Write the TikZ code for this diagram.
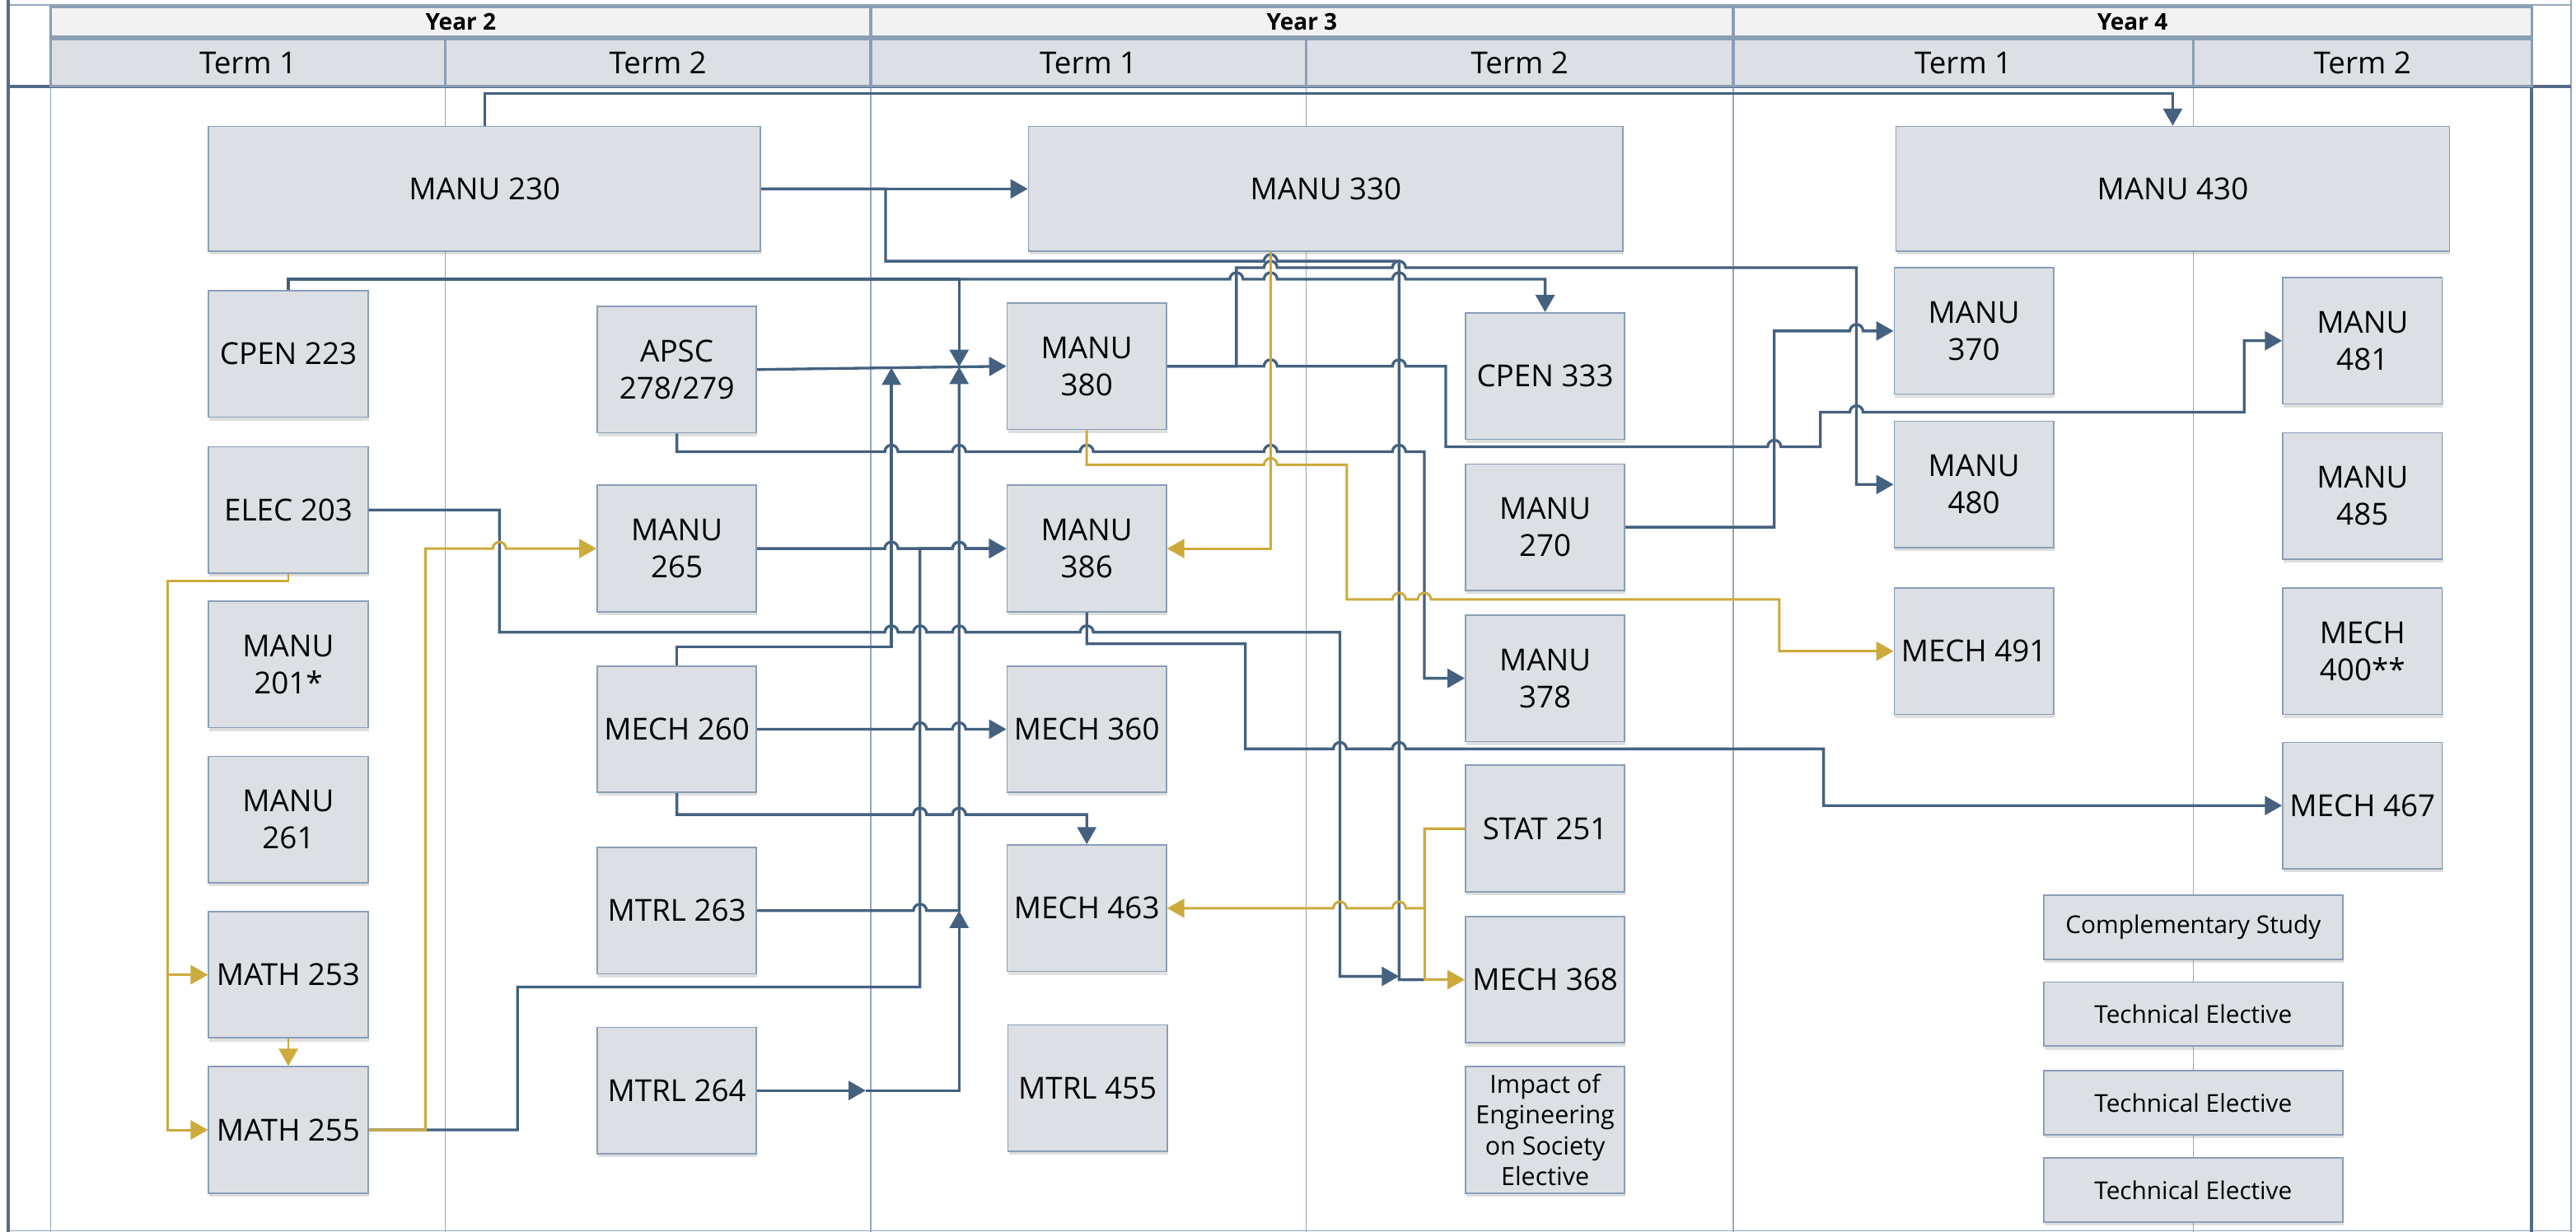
\documentclass[tikz,border=0pt]{standalone}
\usepackage{fontspec}
\setmainfont{Open Sans}
\usepackage{tikz}
\usetikzlibrary{arrows.meta,shadows}
\tikzset{>={Triangle[length=2.1mm,width=2.3mm]}}
\definecolor{LineBlue}{RGB}{68,97,128}
\definecolor{LineGold}{RGB}{204,170,60}
\definecolor{BoxFill}{RGB}{220,223,228}
\definecolor{BoxEdge}{RGB}{138,158,182}
\definecolor{LaneGray}{RGB}{150,168,190}
\definecolor{HeadFill}{RGB}{242,242,242}
\definecolor{PoolLine}{RGB}{84,108,136}

\tikzset{
  course/.style={draw=BoxEdge, line width=0.5pt, fill=BoxFill, minimum width=1.94cm, minimum height=1.54cm,
    inner sep=1pt, align=center, font=\fontsize{10.5}{12.8}\selectfont,
    drop shadow={shadow xshift=0.3pt, shadow yshift=-1.2pt, opacity=0.25}},
  wide/.style={course, minimum height=1.52cm},
  elective/.style={course, minimum width=3.64cm, minimum height=0.78cm, font=\fontsize{8.5}{10}\selectfont},
  pre/.style={draw=LineBlue, line width=0.95pt},
  co/.style={draw=LineGold, line width=0.85pt},
  lane/.style={draw=LaneGray, line width=0.35pt},
  pool/.style={draw=PoolLine, line width=1.1pt},
  head/.style={draw=BoxEdge, line width=0.9pt},
}
% line hop over a vertical connector, going right / going left
\newcommand{\hopr}[2]{-- ({#1-4},#2) arc[start angle=180,end angle=0,radius=0.08cm]}
\newcommand{\hopl}[2]{-- ({#1+4},#2) arc[start angle=0,end angle=180,radius=0.08cm]}

\begin{document}
\begin{tikzpicture}[x=0.02cm, y=-0.02cm]
\useasboundingbox (0,0) rectangle (1568,750);
% frame and lanes
\draw[lane] (5,3) -- (1565,3);
\draw[lane] (5,749.5) -- (1565,749.5);
\draw[lane] (1565,0) -- (1565,750);
\foreach \x in {31,271,530,795,1055,1335} \draw[lane] (\x,52.5) -- (\x,750);
\draw[pool] (5,0) -- (5,750);
\draw[pool] (5,52.5) -- (1565,52.5);
\draw[pool] (1541,4) -- (1541,750);
% header
\foreach \a/\b/\n in {31/530/2,530/1055/3,1055/1541/4}{
  \draw[head, fill=HeadFill] (\a,4) rectangle (\b,22.5);
  \node[font=\fontsize{8}{9}\selectfont\bfseries] (year\n) at ({(\a+\b)/2},13.3) {Year \n};
}
\foreach \a/\b/\tn [count=\i] in {31/271/1,271/530/2,530/795/1,795/1055/2,1055/1335/1,1335/1541/2}{
  \draw[head, fill=BoxFill] (\a,24) rectangle (\b,52.5);
  \node[font=\fontsize{10.5}{12}\selectfont] (term\i) at ({(\a+\b)/2},38.5) {Term \tn};
}

% courses
\node[wide, minimum width=6.72cm] (m230) at (295,115) {MANU 230};
\node[wide, minimum width=7.24cm] (m330) at (807,115) {MANU 330};
\node[wide, minimum width=6.74cm] (m430) at (1322.5,115) {MANU 430};

\node[course] (cpen223) at (175.5,215.5) {CPEN 223};
\node[course] (elec203) at (175.5,310.5) {ELEC 203};
\node[course] (m201) at (175.5,404.5) {MANU\\201*};
\node[course] (m261) at (175.5,499) {MANU\\261};
\node[course] (math253) at (175.5,593.5) {MATH 253};
\node[course] (math255) at (175.5,688) {MATH 255};

\node[course] (apsc) at (412,225) {APSC\\278/279};
\node[course] (m265) at (412,334) {MANU\\265};
\node[course] (mech260) at (412,444) {MECH 260};
\node[course] (mtrl263) at (412,554.5) {MTRL 263};
\node[course] (mtrl264) at (412,664) {MTRL 264};

\node[course] (m380) at (661.5,223) {MANU\\380};
\node[course] (m386) at (661.5,334) {MANU\\386};
\node[course] (mech360) at (661.5,444) {MECH 360};
\node[course] (mech463) at (661.5,553) {MECH 463};
\node[course] (mtrl455) at (662,662.5) {MTRL 455};

\node[course] (cpen333) at (940.5,229) {CPEN 333};
\node[course] (m270) at (940.5,321) {MANU\\270};
\node[course] (m378) at (940.5,413) {MANU\\378};
\node[course] (stat251) at (940.5,504.5) {STAT 251};
\node[course] (mech368) at (940.5,596.5) {MECH 368};
\node[course, inner sep=0pt, font=\fontsize{8.7}{10.7}\selectfont] (impact) at (940.5,688) {Impact of\\Engineering\\on Society\\Elective};

\node[course] (m370) at (1201.5,201.5) {MANU\\370};
\node[course] (m480) at (1201.5,295) {MANU\\480};
\node[course] (mech491) at (1201.5,396.5) {MECH 491};

\node[course] (m481) at (1438,207.5) {MANU\\481};
\node[course] (m485) at (1438,302) {MANU\\485};
\node[course] (mech400) at (1438,396.5) {MECH\\400**};
\node[course] (mech467) at (1438,490.5) {MECH 467};

\node[elective] (comp) at (1335,564.5) {Complementary Study};
\node[elective] (tech1) at (1335,617.5) {Technical Elective};
\node[elective] (tech2) at (1335,671.5) {Technical Elective};
\node[elective] (tech3) at (1335,724.5) {Technical Elective};

% end points on other connectors
\coordinate (in380a) at (542.6,223.9);
\coordinate (in380b) at (583.8,223.4);
\coordinate (mid264) at (527,664);
\coordinate (in263) at (583.8,554.5);
\coordinate (in368) at (851.6,594.5);
\coordinate (j368) at (867,596.5);

% blue prerequisites
\draw[pre,->] (m230.north) -- (295,57) -| (m430.north);
\draw[pre,->] (m230.east) -- (m330.west);
\draw[pre] (m230.east) -- (539,115) -- (539,159) \hopr{773.4}{159} -- (851.6,159) -- (851.6,596.5) -- (j368);
\draw[pre,->] (cpen223.north) -- (175.5,170) \hopr{752.6}{170} \hopr{773.4}{170} \hopr{851.6}{170} -| (cpen333.north);
\draw[pre,->] (cpen223.north) -- (175.5,170) -- (583.8,170) -- (in380b);
\draw[pre,->] (apsc.east) -- (m380.west);
\draw[pre,->] (apsc.south) -- (412,275) \hopr{542.6}{275} \hopr{583.8}{275} \hopr{661.5}{275} \hopr{773.4}{275} \hopr{851.6}{275} -- (867,275) |- (m378.west);
\draw[pre,->] (mech260.north) -- (412,394) -- (542.6,394) -- (in380a);
\draw[pre,->] (mtrl263.east) \hopr{560}{554.5} -- (583.8,554.5) -- (in380b);
\draw[pre,->] (mtrl264.east) -- (mid264);
\draw[pre,->] (mid264) -- (583.8,664) -- (in263);
\draw[pre,->] (mech260.east) \hopr{560}{444} \hopr{583.8}{444} -- (mech360.west);
\draw[pre,->] (mech260.south) -- (412,496) \hopr{560}{496} \hopr{583.8}{496} -| (mech463.north);
\draw[pre,->] (m265.east) \hopr{542.6}{334} \hopr{583.8}{334} -- (m386.west);
\draw[pre,->] (math255.east) -- (315,688) -- (315,601) -- (560,601) -- (560,334) \hopr{583.8}{334} -- (m386.west);
\draw[pre,->] (elec203.east) -- (304,310.5) -- (304,385) \hopr{542.6}{385} \hopr{560}{385} \hopr{583.8}{385} \hopr{661.5}{385} -- (815.6,385) -- (815.6,594.5) -- (in368);
\draw[pre,->] (m386.south) -- (661.5,392) -- (758,392) -- (758,456) \hopr{815.6}{456} \hopr{851.6}{456} -- (1110,456) |- (mech467.west);
\draw[pre,->] (m380.east) -- (752.6,223) -- (752.6,163) \hopr{773.4}{163} \hopr{851.6}{163} -- (1130,163) |- (m480.west);
\draw[pre,->] (m380.east) \hopr{773.4}{223} \hopr{851.6}{223} -- (880,223) -- (880,272) \hopr{1080}{272} -- (1108,272) -- (1108,251) \hopr{1130}{251} -- (1366,251) |- (m481.west);
\draw[pre,->] (m270.east) -- (1080,321) -- (1080,201.5) \hopr{1130}{201.5} -- (m370.west);

% gold co-requisites
\draw[co,->] (773.4,0 |- m330.south) -- (773.4,334) -- (m386.east);
\draw[co,->] (m380.south) -- (661.5,283) \hopr{773.4}{283} -- (819.8,283) -- (819.8,365) \hopr{851.6}{365} \hopr{867}{365} -- (1083,365) |- (mech491.west);
\draw[co,->] (elec203.south) -- (175.5,354) -- (102,354) |- (math253.west);
\draw[co,->] (elec203.south) -- (175.5,354) -- (102,354) |- (math255.west);
\draw[co,->] (math253.south) -- (math255.north);
\draw[co,->] (math255.east) -- (259,688) -- (259,334) \hopr{304}{334} -- (m265.west);
\draw[co,->] (stat251.west) -- (867,504.5) |- (mech368.west);
\draw[co,->] (stat251.west) -- (867,504.5) -- (867,553) \hopl{851.6}{553} \hopl{815.6}{553} -- (mech463.east);
\end{tikzpicture}
\end{document}
